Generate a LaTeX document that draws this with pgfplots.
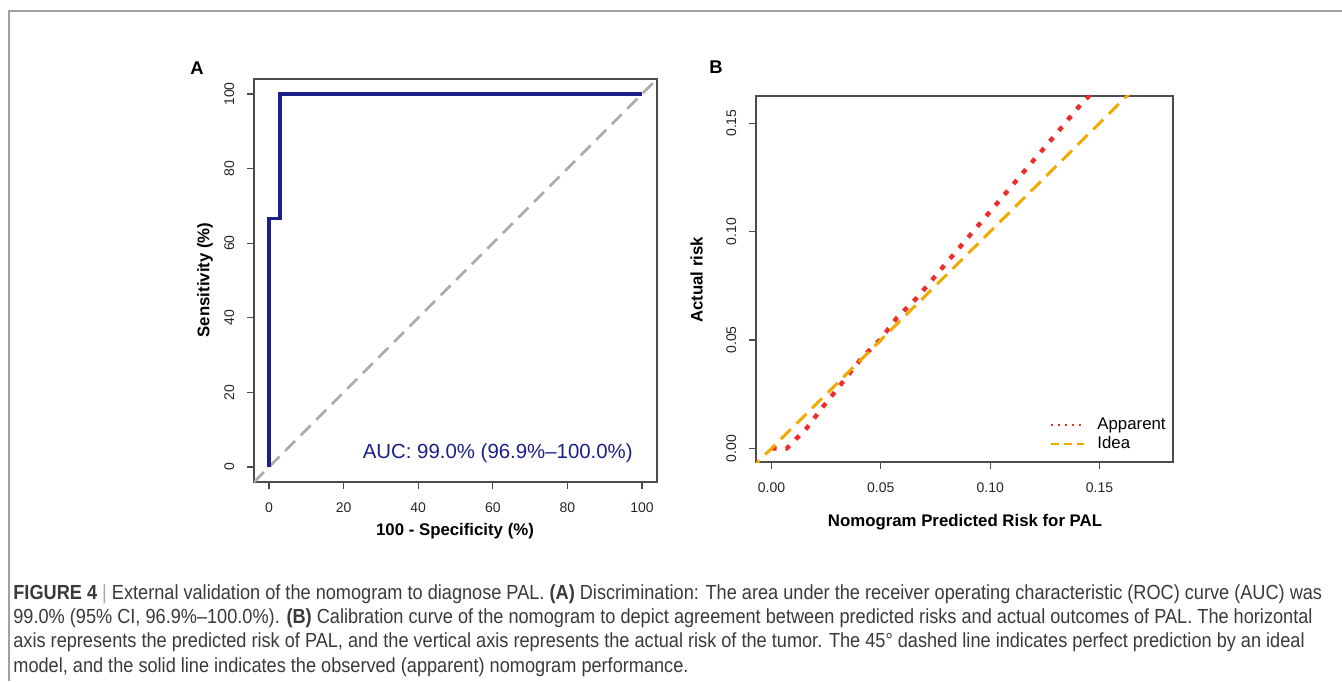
\documentclass[border=0pt]{standalone}
\usepackage{fontspec}
\setmainfont{Liberation Sans}
\newfontfamily\capfont[FakeStretch=0.89]{Liberation Sans}
\usepackage{pgfplots}
\pgfplotsset{compat=1.18}
\definecolor{rocblue}{HTML}{1A1F8A}
\definecolor{diaggray}{HTML}{ABABAB}
\definecolor{appred}{HTML}{EE2C2C}
\definecolor{ideaorange}{HTML}{F2A900}
\definecolor{framegray}{HTML}{A0A0A0}
\definecolor{capgray}{HTML}{3A3A3A}

\pgfplotsset{rstyle/.style={
  scale only axis,
  axis line style={black!70, line width=0.6pt},
  tick align=outside, xtick pos=bottom, ytick pos=left,
  major tick length=3.5pt,
  tick style={black!70, line width=0.6pt},
  tick label style={font=\fontsize{7}{8}\selectfont, text=black!85},
  yticklabel style={xshift=-2.8pt, rotate=90, anchor=south},
  xticklabel style={yshift=-3.5pt, anchor=north},
}}
\newcommand{\lab}{\fontsize{8.4}{10}\selectfont\bfseries}

\begin{document}
\begin{tikzpicture}
\useasboundingbox (0,0) rectangle (671pt,340.5pt);
\draw[framegray, line width=0.6pt] (671pt,335pt) -- (4.5pt,335pt) -- (4.5pt,0pt);

% panel A: ROC
\begin{axis}[rstyle, at={(127pt,99.5pt)}, anchor=south west,
  width=201.5pt, height=201.5pt,
  xmin=-4, xmax=104, ymin=-4, ymax=104,
  xtick={0,20,40,60,80,100}, xticklabels={0,20,40,60,80,100},
  ytick={0,20,40,60,80,100}, yticklabels={0,20,40,60,80,100}]
\addplot[diaggray, line width=1.4pt, dash pattern=on 7pt off 4pt]
  coordinates {(-4,-4) (104,104)};
\addplot[rocblue, line width=1.75pt, line join=miter]
  coordinates {(0,0) (0,66.67) (3,66.67) (3,100) (100,100)};
\node[anchor=east, text=rocblue, font=\fontsize{10.2}{12}\selectfont, inner sep=0pt]
  at (axis cs:97.6,3.7) {AUC: 99.0\% (96.9\%–100.0\%)};
\end{axis}

% panel B: calibration
\begin{axis}[rstyle, at={(378pt,109.5pt)}, anchor=south west,
  width=208.5pt, height=183pt,
  xmin=-0.00706, xmax=0.18357, ymin=-0.00625, ymax=0.1625,
  xtick={0,0.05,0.1,0.15}, xticklabels={0.00,0.05,0.10,0.15},
  ytick={0,0.05,0.1,0.15}, yticklabels={0.00,0.05,0.10,0.15},
  legend cell align=left,
  legend style={at={(rel axis cs:1,0)}, anchor=south east, draw=none, fill=none,
    xshift=1.5pt, yshift=1pt, font=\fontsize{8.4}{10}\selectfont, row sep=-1.8pt,
    /tikz/every odd column/.append style={column sep=4pt}}]
\addplot[appred, line width=2.2pt, dash pattern=on 2.6pt off 4.4pt,
  legend image code/.code={\draw[appred, line width=1pt, dash pattern=on 1pt off 2.4pt] (0pt,0pt) -- (16.5pt,0pt);}]
  coordinates {(0,0) (0.007,0) (0.0162,0.0095) (0.0238,0.0195) (0.0329,0.031)
    (0.0413,0.0418) (0.0497,0.0502) (0.0573,0.0602) (0.0665,0.0694) (0.0787,0.0840)
    (0.0916,0.0993) (0.1046,0.1147) (0.1168,0.1293) (0.1290,0.1436) (0.1412,0.1584)
    (0.1454,0.1627) (0.148,0.166)};
\addplot[ideaorange, line width=1.5pt, dash pattern=on 7pt off 4pt,
  legend image code/.code={\draw[ideaorange, line width=1pt, dash pattern=on 4pt off 2.5pt] (0pt,0pt) -- (16.5pt,0pt);}]
  coordinates {(-0.01,-0.01) (0.17,0.17)};
\legend{Apparent, Idea}
\end{axis}

% panel letters and axis titles
\node[font=\fontsize{9.2}{10}\selectfont\bfseries] at (98.5pt,306.5pt) {A};
\node[font=\fontsize{9.2}{10}\selectfont\bfseries] at (358pt,307pt) {B};
\node[font=\lab, rotate=90] at (102.5pt,200.5pt) {Sensitivity (\%)};
\node[font=\lab] at (227.5pt,75pt) {100 - Specificity (\%)};
\node[font=\lab, rotate=90] at (348.35pt,200.5pt) {Actual risk};
\node[font=\lab] at (482.5pt,79.65pt) {Nomogram Predicted Risk for PAL};

% caption
\begin{scope}[every node/.style={anchor=base west, inner sep=0pt, text=capgray,
    font=\capfont\fontsize{10.2}{12}\selectfont}]
\node at (6.5pt,41pt) {\textbf{FIGURE 4} \textcolor{black!35}{|} External validation of the nomogram to diagnose PAL. \textbf{(A)} Discrimination: The area under the receiver operating characteristic (ROC) curve (AUC) was};
\node at (6.5pt,28.8pt) {99.0\% (95\% CI, 96.9\%–100.0\%). \textbf{(B)} Calibration curve of the nomogram to depict agreement between predicted risks and actual outcomes of PAL. The horizontal};
\node at (6.5pt,16.6pt) {axis represents the predicted risk of PAL, and the vertical axis represents the actual risk of the tumor. The 45° dashed line indicates perfect prediction by an ideal};
\node at (6.5pt,4.4pt) {model, and the solid line indicates the observed (apparent) nomogram performance.};
\end{scope}
\end{tikzpicture}
\end{document}
